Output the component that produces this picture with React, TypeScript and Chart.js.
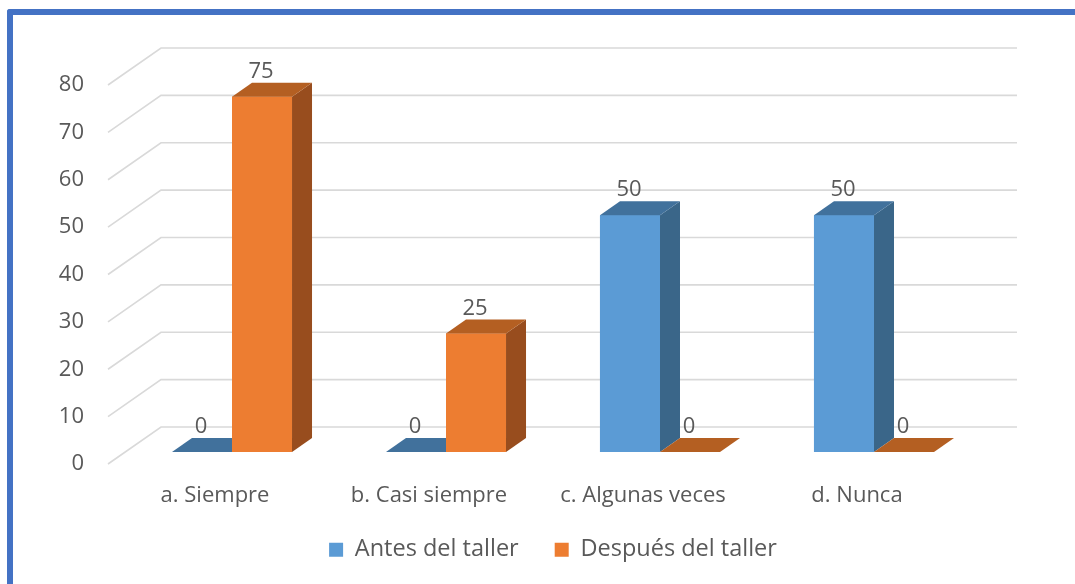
import React, { useEffect, useRef } from "react";
import { Chart, registerables } from "chart.js";

Chart.register(...registerables);

const categories = ["a. Siempre", "b. Casi siempre", "c. Algunas veces", "d. Nunca"];
const seriesNames = ["Antes del taller", "Después del taller"];
const antesValues = [0, 0, 50, 50];
const despuesValues = [75, 25, 0, 0];
const yTicks = [0, 10, 20, 30, 40, 50, 60, 70, 80];

const FONT = "'Open Sans', 'DejaVu Sans', sans-serif";
const TEXT = "#595959";
const faceColors = [
  { front: "#5B9BD5", side: "#3A6689", top: "#41719C" },
  { front: "#ED7D31", side: "#984D1E", top: "#B45F22" },
];

// 3D geometry (pixel offsets from bar front plane)
const WALL_DX = 36, WALL_DY = -25;
const FLOOR_DX = -17, FLOOR_DY = 12;
const BAR_DX = 20, BAR_DY = -14;
const LEGEND_SHIFT = -8;

const threeD = {
  id: "threeD",
  afterLayout(chart: any) {
    const lg = chart.legend;
    if (lg) {
      lg.top += LEGEND_SHIFT;
      lg.bottom += LEGEND_SHIFT;
    }
  },
  beforeDatasetsDraw(chart: any) {
    const { ctx, chartArea, scales } = chart;
    const y = scales.y;
    ctx.save();
    ctx.strokeStyle = "#D9D9D9";
    ctx.lineWidth = 1.6;
    for (const v of yTicks) {
      const py = y.getPixelForValue(v);
      ctx.beginPath();
      ctx.moveTo(chartArea.left + FLOOR_DX, py + FLOOR_DY);
      ctx.lineTo(chartArea.left + WALL_DX, py + WALL_DY);
      ctx.lineTo(chartArea.right + WALL_DX, py + WALL_DY);
      ctx.stroke();
    }
    ctx.restore();
  },
  afterDatasetsDraw(chart: any) {
    const { ctx } = chart;
    const metas = [chart.getDatasetMeta(0), chart.getDatasetMeta(1)];
    const poly = (pts: number[][]) => {
      ctx.beginPath();
      ctx.moveTo(pts[0][0], pts[0][1]);
      for (let k = 1; k < pts.length; k++) ctx.lineTo(pts[k][0], pts[k][1]);
      ctx.closePath();
      ctx.fill();
    };
    ctx.save();
    const labels: { x: number; y: number; t: string }[] = [];
    for (let i = 0; i < categories.length; i++) {
      metas.forEach((meta: any, d: number) => {
        const el = meta.data[i];
        const { x, y, base, width } = el.getProps(["x", "y", "base", "width"], true);
        const l = x - width / 2;
        const r = x + width / 2;
        const top = Math.min(y, base);
        const bot = Math.max(y, base);
        const c = faceColors[d];
        if (bot - top > 0) {
          ctx.fillStyle = c.front;
          ctx.fillRect(l, top, width, bot - top);
        }
        ctx.fillStyle = c.side;
        poly([[r, top], [r + BAR_DX, top + BAR_DY], [r + BAR_DX, bot + BAR_DY], [r, bot]]);
        ctx.fillStyle = c.top;
        poly([[l, top], [r, top], [r + BAR_DX, top + BAR_DY], [l + BAR_DX, top + BAR_DY]]);
        const val = chart.data.datasets[d].data[i];
        labels.push({ x: x - 1, y: top - 25, t: String(val) });
      });
    }
    ctx.fillStyle = TEXT;
    ctx.font = `22px ${FONT}`;
    ctx.textAlign = "center";
    ctx.textBaseline = "middle";
    for (const lb of labels) ctx.fillText(lb.t, lb.x, lb.y);
    ctx.restore();
  },
};

export default function App() {
  const ref = useRef<HTMLCanvasElement>(null);
  useEffect(() => {
    if (!ref.current) return;
    const chart = new Chart(ref.current, {
      type: "bar",
      data: {
        labels: categories,
        datasets: [
          { label: seriesNames[0], data: antesValues, backgroundColor: faceColors[0].front, borderWidth: 0 },
          { label: seriesNames[1], data: despuesValues, backgroundColor: faceColors[1].front, borderWidth: 0 },
        ],
      },
      options: {
        responsive: false,
        animation: false,
        layout: { padding: { left: 0, top: 73, right: 94, bottom: 4.5 } },
        datasets: { bar: { barPercentage: 1, categoryPercentage: 0.561 } },
        plugins: {
          legend: {
            position: "bottom",
            fullSize: false,
            labels: {
              color: TEXT,
              font: { family: FONT, size: 23.5 },
              boxWidth: 14,
              boxHeight: 14,
              padding: 36,
            },
          },
          tooltip: { enabled: false },
        },
        scales: {
          x: {
            grid: { display: false },
            border: { display: false },
            ticks: {
              color: TEXT,
              font: { family: FONT, size: 22 },
              padding: 23,
              labelOffset: -17,
              maxRotation: 0,
              autoSkip: false,
            },
            afterFit: (s: any) => { s.height = 58; },
          },
          y: {
            min: 0,
            max: 80,
            grid: { display: false, drawTicks: false },
            border: { display: false },
            ticks: {
              stepSize: 10,
              color: TEXT,
              font: { family: FONT, size: 22 },
              padding: 41,
              labelOffset: 12,
            },
            afterFit: (s: any) => { s.width = 125; },
          },
        },
      },
      plugins: [threeD],
    } as any);
    return () => chart.destroy();
  }, []);
  return (
    <div style={{ position: "fixed", left: 0, top: 0, width: 1075, height: 584, background: "#fff", overflow: "hidden" }}>
      <div
        style={{
          position: "absolute",
          left: 7,
          top: 9,
          width: 1100,
          height: 600,
          borderTop: "6px solid #4472C4",
          borderLeft: "6px solid #4472C4",
          borderTopLeftRadius: 3,
        }}
      />
      <canvas ref={ref} width={1075} height={584} style={{ position: "absolute", left: 0, top: 0, display: "block" }} />
    </div>
  );
}
